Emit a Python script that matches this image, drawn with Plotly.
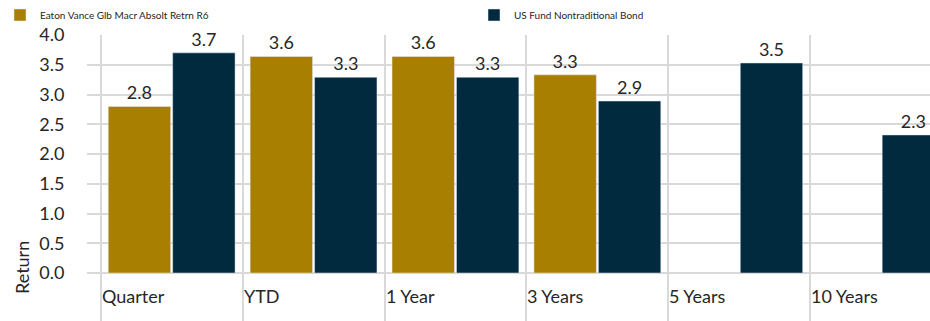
import plotly.graph_objects as go

categories = ["Quarter", "YTD", "1 Year", "3 Years", "5 Years", "10 Years"]
fund_name = "Eaton Vance Glb Macr Absolt Retrn R6"
bench_name = "US Fund Nontraditional Bond"
fund_values = [2.80, 3.64, 3.64, 3.33, None, None]
bench_values = [3.70, 3.29, 3.29, 2.89, 3.53, 2.32]
y_ticks = [0.0, 0.5, 1.0, 1.5, 2.0, 2.5, 3.0, 3.5, 4.0]

GOLD = "#A87F00"
NAVY = "#012A3F"
GRID = "#D9D9D9"
TEXT = "#262626"
FONT = "Lato, Calibri, Carlito, sans-serif"

W, H = 930, 321
ML, MR, MT, MB = 87, 0, 35, 48
PW, PH = W - ML - MR, H - MT - MB

fig = go.Figure()
fig.add_trace(go.Bar(
    x=categories, y=fund_values, name=fund_name, marker_color=GOLD,
    texttemplate="%{y:.1f}", textposition="outside",
    textfont=dict(family=FONT, size=18, color=TEXT), cliponaxis=False,
    legend="legend",
))
fig.add_trace(go.Bar(
    x=categories, y=bench_values, name=bench_name, marker_color=NAVY,
    texttemplate="%{y:.1f}", textposition="outside",
    textfont=dict(family=FONT, size=18, color=TEXT), cliponaxis=False,
    legend="legend2",
))

annotations = []
for i, c in enumerate(categories):
    annotations.append(dict(
        x=i - 0.5, xref="x", y=0, yref="paper", text=c, showarrow=False,
        xanchor="left", yanchor="middle", yshift=-23, xshift=-1,
        font=dict(family=FONT, size=18, color=TEXT),
    ))
annotations.append(dict(
    x=(22 - ML) / PW, xref="paper", y=(MT + PH - 268) / PH, yref="paper",
    text="Return", showarrow=False, textangle=-90,
    xanchor="center", yanchor="middle",
    font=dict(family=FONT, size=18, color=TEXT),
))

legend_common = dict(
    orientation="h", xref="container", yref="container",
    y=1 - 15 / H, xanchor="left", yanchor="middle",
    font=dict(family=FONT, size=10, color=TEXT),
    itemclick=False, itemdoubleclick=False, bgcolor="rgba(0,0,0,0)",
)

fig.update_layout(
    width=W, height=H,
    margin=dict(l=ML, r=MR, t=MT, b=MB, autoexpand=False),
    paper_bgcolor="white", plot_bgcolor="white",
    barmode="group", bargap=0.092, bargroupgap=0.031,
    font=dict(family=FONT, color=TEXT),
    showlegend=True,
    legend=dict(x=0.0, **legend_common),
    legend2=dict(x=474 / W, **legend_common),
    annotations=annotations,
    xaxis=dict(
        type="category", range=[-0.5965, 5.344],
        tickson="boundaries", showgrid=True, gridcolor=GRID, gridwidth=2,
        ticks="outside", ticklen=48, tickcolor=GRID, tickwidth=2,
        showticklabels=False, showline=False, zeroline=False, fixedrange=True,
        automargin=False,
    ),
    yaxis=dict(
        range=[0, 4], tickvals=y_ticks, tickformat=".1f",
        showgrid=True, gridcolor=GRID, gridwidth=2,
        zeroline=True, zerolinecolor=GRID, zerolinewidth=2,
        ticks="outside", ticklen=18, tickcolor="rgba(0,0,0,0)",
        tickfont=dict(family=FONT, size=18, color=TEXT),
        showline=False, fixedrange=True, automargin=False,
    ),
)

fig.write_html(
    "out.html",
    config={"displayModeBar": False},
    post_script="document.body.style.margin='0px';document.body.style.overflow='hidden';",
)
